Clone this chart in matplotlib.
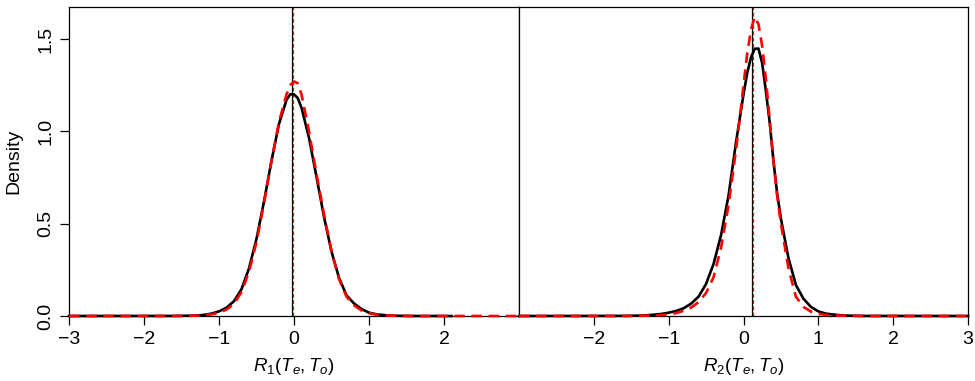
import matplotlib
matplotlib.use("Agg")
import matplotlib.pyplot as plt

plt.rcParams['font.family'] = ['Liberation Sans', 'DejaVu Sans']
plt.rcParams['mathtext.fontset'] = 'custom'
plt.rcParams['mathtext.rm'] = 'Liberation Sans'
plt.rcParams['mathtext.it'] = 'Liberation Sans:italic'

# densities
x1 = [-3.0, -1.6, -1.4, -1.3, -1.2, -1.1, -1.0, -0.9, -0.8, -0.7, -0.6, -0.5, -0.4, -0.3, -0.2, -0.1, -0.05,
      0.0, 0.05, 0.1, 0.2, 0.3, 0.4, 0.5, 0.6, 0.7, 0.8, 0.9, 1.0, 1.1, 1.2, 1.3, 1.4, 1.6, 2.1]
dens1_black = [0.0, 0.0005, 0.0015, 0.003, 0.006, 0.013, 0.025, 0.045, 0.08, 0.145, 0.258, 0.418, 0.62, 0.84, 1.04, 1.17, 1.20,
               1.20, 1.18, 1.128, 0.965, 0.753, 0.537, 0.349, 0.207, 0.112, 0.068, 0.038, 0.018, 0.009, 0.005, 0.002, 0.001, 0.0, 0.0]
x1_red = x1[:-1] + [3.0]
dens1_red = [0.0, 0.0, 0.001, 0.002, 0.004, 0.009, 0.018, 0.035, 0.066, 0.13, 0.24, 0.40, 0.61, 0.84, 1.05, 1.20, 1.25,
             1.27, 1.26, 1.20, 1.00, 0.77, 0.55, 0.35, 0.20, 0.105, 0.058, 0.03, 0.015, 0.008, 0.004, 0.002, 0.001, 0.0, 0.0]

x2 = [-3.0, -1.6, -1.4, -1.3, -1.2, -1.1, -1.0, -0.9, -0.8, -0.7, -0.6, -0.5, -0.4, -0.3, -0.2, -0.1, -0.05,
      0.0, 0.05, 0.1, 0.15, 0.2, 0.25, 0.3, 0.35, 0.4, 0.45, 0.5, 0.6, 0.7, 0.8, 0.9, 1.0, 1.1, 1.2, 1.3, 1.4, 1.6, 3.0]
dens2_black = [0.0, 0.0007, 0.002, 0.004, 0.007, 0.011, 0.018, 0.027, 0.042, 0.067, 0.105, 0.174, 0.282, 0.438, 0.652, 0.94, 1.07,
               1.20, 1.316, 1.40, 1.447, 1.448, 1.368, 1.215, 1.048, 0.84, 0.662, 0.527, 0.315, 0.168, 0.094, 0.05, 0.025, 0.013, 0.008, 0.004, 0.002, 0.0005, 0.0]
dens2_red = [0.0, 0.0, 0.001, 0.002, 0.003, 0.005, 0.009, 0.016, 0.028, 0.046, 0.075, 0.125, 0.21, 0.37, 0.60, 0.90, 1.07,
             1.25, 1.42, 1.55, 1.62, 1.58, 1.46, 1.28, 1.06, 0.84, 0.65, 0.50, 0.26, 0.105, 0.05, 0.024, 0.012, 0.006, 0.003, 0.002, 0.001, 0.0, 0.0]

vline1_black, vline1_red = -0.03, -0.02
vline2_black, vline2_red = 0.11, 0.125

fig = plt.figure(figsize=(9.75, 3.81), dpi=100)
ax1 = fig.add_axes([69/975, 1 - 316/381, 450/975, 309/381])
ax2 = fig.add_axes([519/975, 1 - 316/381, 449/975, 309/381])

panels = [(ax1, x1, dens1_black, x1_red, dens1_red, vline1_black, vline1_red, range(-3, 3), '$R_1(T_e,T_o)$'),
          (ax2, x2, dens2_black, x2, dens2_red, vline2_black, vline2_red, range(-2, 4), '$R_2(T_e,T_o)$')]

for ax, xs, yb, xr, yr, vb, vr, ticks, lab in panels:
    ax.plot(xs, yb, color='black', lw=1.9, solid_joinstyle='round', clip_on=False, zorder=3)
    ax.plot(xr, yr, color='red', lw=1.9, linestyle=(0, (4, 2.5)), clip_on=False, zorder=4)
    ax.axvline(vb, color='black', lw=0.9)
    ax.axvline(vr, color='red', lw=0.9, linestyle=(0, (3, 2)))
    ax.set_xlim(-3, 3)
    ax.set_ylim(0, 1.673)
    ax.set_xticks(list(ticks))
    ax.set_xticklabels([str(t).replace('-', '\u2212') for t in ticks])
    ax.tick_params(axis='both', direction='out', length=6.5, width=0.9, labelsize=14, pad=4)
    ax.set_xlabel(lab, fontsize=13.5, labelpad=6)
    for s in ax.spines.values():
        s.set_linewidth(0.9)

ax1.set_yticks([0.0, 0.5, 1.0, 1.5])
ax1.set_yticklabels(['0.0', '0.5', '1.0', '1.5'], rotation=90, va='center')
ax1.set_ylabel('Density', fontsize=14, labelpad=11)
ax2.set_yticks([])

fig.savefig('out.png', dpi=100)
